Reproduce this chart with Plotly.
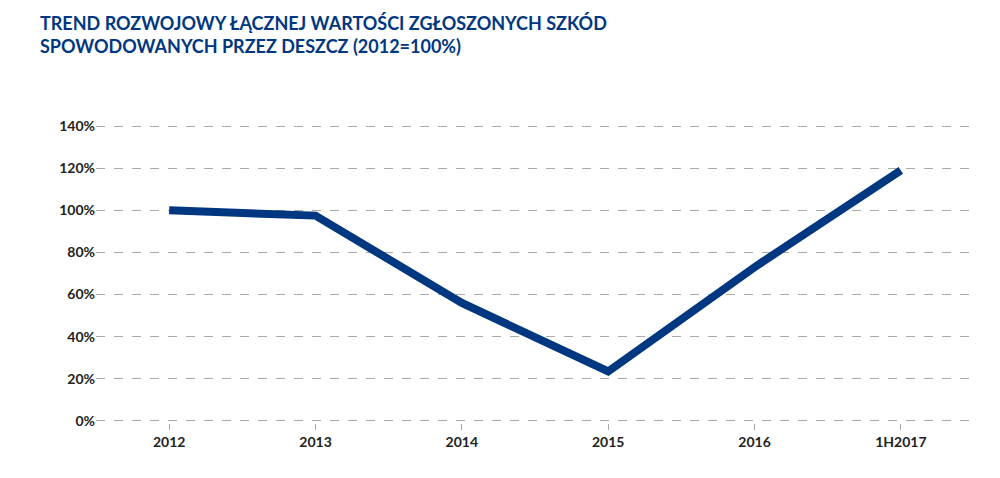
import plotly.graph_objects as go

categories = ["2012", "2013", "2014", "2015", "2016", "1H2017"]
values = [100, 97.5, 56, 23.5, 73, 119]
y_ticks = [0, 20, 40, 60, 80, 100, 120, 140]
y_labels = [f"{v}%" for v in y_ticks]

blue = "#003781"
fig = go.Figure(go.Scatter(x=categories, y=values, mode="lines",
                           line=dict(color=blue, width=8)))
fig.update_layout(
    width=1000, height=478, plot_bgcolor="white", paper_bgcolor="white",
    margin=dict(l=88, r=34, t=116, b=63), showlegend=False,
    font=dict(family="Lato", color="#222", size=14),
    title=dict(text="<b>TREND ROZWOJOWY ŁĄCZNEJ WARTOŚCI ZGŁOSZONYCH SZKÓD<br>SPOWODOWANYCH PRZEZ DESZCZ (2012=100%)</b>",
               x=0.032, xanchor="left", y=0.955, yanchor="top",
               font=dict(size=18, color=blue, family="Lato")),
)
fig.update_xaxes(range=[-0.5, 5.5], showgrid=False, showline=False, ticks="outside",
                 ticklen=6, tickcolor="#aaa", tickfont=dict(size=14, color="#222", weight="bold"))
fig.update_yaxes(range=[-1, 141], tickvals=y_ticks, ticktext=y_labels, showgrid=True,
                 gridcolor="#aaa", griddash="dash", gridwidth=1.2, zeroline=False,
                 showline=False, ticks="", tickfont=dict(size=14, color="#222", weight="bold"))
fig.write_html("out.html")
